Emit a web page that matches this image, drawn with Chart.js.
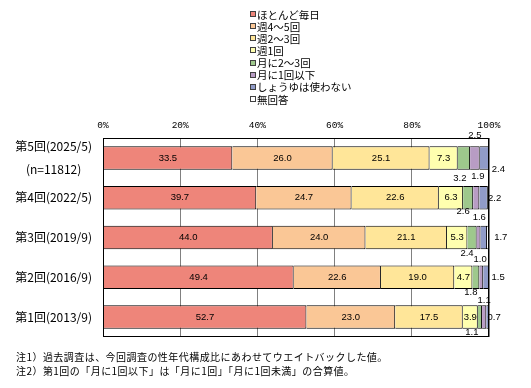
<!DOCTYPE html>
<html>
<head>
<meta charset="utf-8">
<script src="https://cdn.jsdelivr.net/npm/chart.js@4.4.1/dist/chart.umd.min.js"></script>
<style>
  html, body { margin: 0; padding: 0; background: #fff; }
  #wrap { position: relative; width: 531px; height: 388px; }
  #myChart { position: absolute; left: 0; top: 0; }
  #legend { position: absolute; left: 250px; top: 8px; font: 10.5px "Noto Sans CJK JP"; color: #000; }
  #legend div { height: 12.15px; display: flex; align-items: center; white-space: nowrap; }
  #legend span.box { width: 4px; height: 4px; border: 1px solid #404040; margin-right: 1px; }
  .note { position: absolute; left: 16px; font: 10px "Noto Sans CJK JP"; line-height: 12px; letter-spacing: 0.45px; white-space: nowrap; color: #000; }
</style>
</head>
<body>
<div id="wrap">
  <canvas id="myChart" width="531" height="388"></canvas>
  <div id="legend"></div>
  <div class="note" style="top:351px">注1）過去調査は、今回調査の性年代構成比にあわせてウエイトバックした値。</div>
  <div class="note" style="top:365px">注2）第1回の「月に1回以下」は「月に1回」「月に1回未満」の合算値。</div>
</div>
<script>
var rounds = [['第5回(2025/5)', '(n=11812)'], '第4回(2022/5)', '第3回(2019/9)', '第2回(2016/9)', '第1回(2013/9)'];
var seriesNames = ['ほとんど毎日', '週4～5回', '週2～3回', '週1回', '月に2～3回', '月に1回以下', 'しょうゆは使わない', '無回答'];
var almostDaily = [33.5, 39.7, 44.0, 49.4, 52.7];
var week4to5 = [26.0, 24.7, 24.0, 22.6, 23.0];
var week2to3 = [25.1, 22.6, 21.1, 19.0, 17.5];
var week1 = [7.3, 6.3, 5.3, 4.7, 3.9];
var month2to3 = [3.2, 2.6, 2.4, 1.8, 1.1];
var month1less = [2.5, 1.6, 1.0, 1.0, 1.1];
var noSoy = [2.4, 2.2, 1.7, 1.5, 0.7];
var noAnswer = [0.0, 0.3, 0.5, 0.0, 0.0];
var xTicks = [0, 20, 40, 60, 80, 100];

var colors = ['#EE857A', '#FAC796', '#FFE699', '#FFFFAF', '#9EC88C', '#B89CC4', '#909BC8', '#FFFFFF'];
var allSeries = [almostDaily, week4to5, week2to3, week1, month2to3, month1less, noSoy, noAnswer];

// where the small values are printed: [dx, dy] from segment centre, per row, for series 4..6
var smallLabelOffsets = [
    [[-4, 20], [0, -22.5], [14, 11.5]],
    [[-5, 14], [3, 20], [11, 1]],
    [[-5, 16], [1.5, 22], [17, 0]],
    [[-5, 15], null, [12, 0]],
    [[-8, 15], [0, -17], [6.5, 0]]
];
// label printed in the original without its own segment
var extraLabels = [{ row: 0, series: 5, text: '1.9', dx: 3, dy: 18 }];

// legend
var legend = document.getElementById('legend');
seriesNames.forEach(function (name, i) {
    var row = document.createElement('div');
    var box = document.createElement('span');
    box.className = 'box';
    box.style.background = colors[i];
    row.appendChild(box);
    row.appendChild(document.createTextNode(name));
    legend.appendChild(row);
});

var valueLabels = {
    id: 'valueLabels',
    afterDatasetsDraw: function (chart) {
        var ctx = chart.ctx;
        var a = chart.chartArea;
        ctx.save();
        ctx.strokeStyle = '#000';
        ctx.lineWidth = 1;
        ctx.strokeRect(Math.round(a.left) + 0.5, Math.round(a.top) + 0.5,
            Math.round(a.right - a.left) - 1, Math.round(a.bottom - a.top) - 1);

        ctx.font = '9.5px "Liberation Sans"';
        ctx.fillStyle = '#000';
        ctx.textAlign = 'center';
        ctx.textBaseline = 'middle';
        chart.data.datasets.forEach(function (ds, si) {
            if (si === 7) return;
            var meta = chart.getDatasetMeta(si);
            meta.data.forEach(function (bar, ri) {
                var cx = (bar.x + bar.base) / 2;
                var cy = bar.y;
                var txt = ds.data[ri].toFixed(1);
                if (si < 4) {
                    ctx.fillText(txt, cx, cy);
                } else {
                    var off = smallLabelOffsets[ri][si - 4];
                    if (off) ctx.fillText(txt, cx + off[0], cy + off[1]);
                }
            });
        });
        extraLabels.forEach(function (lb) {
            var bar = chart.getDatasetMeta(lb.series).data[lb.row];
            ctx.fillText(lb.text, (bar.x + bar.base) / 2 + lb.dx, bar.y + lb.dy);
        });
        ctx.restore();
    }
};

var ctx = document.getElementById('myChart');
var myChart = new Chart(ctx, {
    type: 'bar',
    data: {
        labels: rounds,
        datasets: allSeries.map(function (vals, i) {
            return {
                label: seriesNames[i],
                data: vals,
                backgroundColor: colors[i],
                borderColor: '#000',
                borderWidth: 1,
                barPercentage: 0.59,
                categoryPercentage: 1
            };
        })
    },
    options: {
        indexAxis: 'y',
        responsive: false,
        animation: false,
        layout: { padding: { left: 0, right: 42, top: 118, bottom: 51 } },
        plugins: { legend: { display: false }, tooltip: { enabled: false } },
        scales: {
            x: {
                position: 'top',
                stacked: true,
                min: 0,
                max: 100,
                afterBuildTicks: function (s) { s.ticks = xTicks.map(function (v) { return { value: v }; }); },
                afterFit: function (s) { s.height = 20; },
                grid: { color: '#808080', lineWidth: 1, drawTicks: false },
                border: { display: false },
                ticks: {
                    padding: 7,
                    color: '#000',
                    font: { family: '"Liberation Mono"', size: 9.5 },
                    callback: function (v) { return v + '%'; }
                }
            },
            y: {
                stacked: true,
                afterFit: function (s) { s.width = 103; },
                grid: { display: false, drawTicks: false },
                border: { display: false },
                ticks: {
                    autoSkip: false,
                    crossAlign: 'center',
                    padding: 11,
                    color: '#000',
                    font: { family: '"Noto Sans CJK JP"', size: 12, lineHeight: 1.9 }
                }
            }
        }
    },
    plugins: [valueLabels]
});
</script>
</body>
</html>
